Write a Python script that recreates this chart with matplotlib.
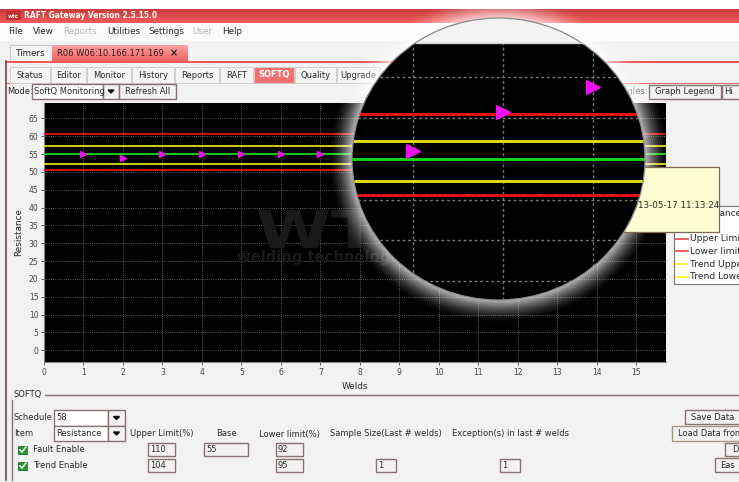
"""Pantalla RAFT Gateway: grafica SoftQ de resistancia con lupa encima."""

import matplotlib

matplotlib.use("Agg")
import matplotlib.pyplot as plt
import numpy as np
from matplotlib.colors import LinearSegmentedColormap
from matplotlib.patches import Ellipse, PathPatch, Rectangle
from matplotlib.font_manager import FontProperties
from matplotlib.text import TextPath
from matplotlib.transforms import Affine2D

W, H = 739, 482

welds = [1, 2, 3, 4, 5, 6, 7, 10, 11, 12]
resistance = [55, 54, 55, 55, 55, 55, 55, 56, 60.8, 63.8]
base = 55
fault_upper = 60.5
fault_lower = 50.6
trend_upper = 57.2
trend_lower = 52.25
x_ticks = list(range(0, 16))
y_ticks = list(range(0, 70, 5))

menu_items = ["File", "View", "Reports", "Utilities", "Settings", "User", "Help"]
menu_x = [8, 33, 63, 107, 148, 192, 222]
tab_names = ["Status", "Editor", "Monitor", "History", "Reports", "RAFT", "SOFTQ", "Quality", "Upgrade"]
tab_edges = [10, 51, 87, 132, 175, 220, 254, 295, 337, 380]
legend_names = ["Upper Limit", "Lower limit", "Trend Upper", "Trend Lower"]

RED = "#e81212"
YELLOW = "#dede14"
GREEN = "#12d812"
MAGENTA = "#ee10ee"
PANEL = "#f2f2f2"
BORDER = "#8a7272"
TEXT = "#2a2a2a"
FONT = "DejaVu Sans"


def px_axes(fig, x0, y0, x1, y1, zorder):
    return fig.add_axes([x0 / W, 1 - y1 / H, (x1 - x0) / W, (y1 - y0) / H], zorder=zorder)


def label(ax, x, y, s, size=6.05, color=TEXT, ha="left", **kw):
    ax.text(x, y, s, fontsize=size, color=color, ha=ha, va="center", family=FONT, **kw)


def field(ax, x0, y0, x1, y1, s="", fill="white", edge=BORDER, pad=2, ha="left"):
    ax.add_patch(Rectangle((x0, y0), x1 - x0, y1 - y0, fc=fill, ec=edge, lw=1))
    if s:
        tx = x0 + pad if ha == "left" else (x0 + x1) / 2
        label(ax, tx, (y0 + y1) / 2, s, ha=ha)


def combo(ax, x0, x1, x2, y0, y1, s):
    field(ax, x0, y0, x1, y1, s)
    field(ax, x1, y0, x2, y1, fill=PANEL)
    xm = (x1 + x2) / 2
    ym = (y0 + y1) / 2
    ax.fill([xm - 3, xm + 3, xm], [ym - 1.5, ym - 1.5, ym + 1.5], color="#111111")


def gradient(ax, x0, y0, x1, y1, top, bottom):
    cmap = LinearSegmentedColormap.from_list("g", [top, bottom])
    ax.imshow(np.linspace(0, 1, 32)[:, None], cmap=cmap, extent=(x0, x1, y1, y0), aspect="auto", zorder=1)


def check(ax, x, y):
    ax.add_patch(Rectangle((x, y - 4), 9, 8, fc="#1f9a2c", ec="#0d5c18", lw=0.5))
    ax.plot([x + 2, x + 4, x + 8], [y, y + 2, y - 3], color="white", lw=1.1)


def draw_series(ax, lw, ms):
    ax.axhline(fault_upper, color=RED, lw=lw, zorder=3)
    ax.axhline(fault_lower, color=RED, lw=lw, zorder=3)
    ax.axhline(trend_upper, color=YELLOW, lw=lw, zorder=3)
    ax.axhline(trend_lower, color=YELLOW, lw=lw, zorder=3)
    ax.axhline(base, color=GREEN, lw=lw, zorder=3)
    ax.plot(welds, resistance, ls="none", marker=">", ms=ms, color=MAGENTA, mec=MAGENTA, zorder=4)


fig = plt.figure(figsize=(W / 100, H / 100), dpi=100, facecolor=PANEL)

# Ventana de fondo
bg = px_axes(fig, 0, 0, W, H, 0)
bg.set_xlim(0, W)
bg.set_ylim(H, 0)
bg.axis("off")
bg.add_patch(Rectangle((0, 0), W, 9, fc="white", ec="none"))
gradient(bg, 0, 9, W, 23, "#c43e3e", "#f75a5a")
bg.add_patch(Rectangle((6, 11), 15, 9, fc="#c43030", ec="none"))
label(bg, 7.5, 16, "wtc", size=4, color="white", fontweight="bold")
label(bg, 24, 16, "RAFT Gateway Version 2.5.15.0", size=5.45, color="white", fontweight="bold")
bg.add_patch(Rectangle((0, 23), W, 18, fc="#fbfbfb", ec="none"))
for name, x in zip(menu_items, menu_x):
    label(bg, x, 31, name, size=6.3, color="#b5b5b5" if name in ("Reports", "User") else TEXT)

# Pestanas
bg.add_patch(Rectangle((10, 45), 42, 16, fc="#f4f4f4", ec="#c8c8c8", lw=0.8))
label(bg, 15, 53, "Timers", size=6.3)
gradient(bg, 52, 45, 188, 61, "#f6a3a3", "#f06262")
label(bg, 57, 53, "R06 W06:10.166.171.169", size=6.05, color="#3a1c1c")
label(bg, 174, 53, "\u00d7", size=7, color="#222222", ha="center", fontweight="bold")
bg.add_patch(Rectangle((5, 61), W, 2, fc="#ee5a5a", ec="none"))
bg.add_patch(Rectangle((5, 83), W, 1.4, fc="#e86a6a", ec="none"))
bg.plot([5.5, 5.5], [61, 480], color="#6a4a4a", lw=1.2)
for i, name in enumerate(tab_names):
    x0, x1 = tab_edges[i], tab_edges[i + 1]
    active = name == "SOFTQ"
    bg.add_patch(Rectangle((x0, 67), x1 - x0 - 1, 16, fc="#f47070" if active else "#f5f5f5", ec="#cfcfcf", lw=0.7))
    label(bg, (x0 + x1 - 1) / 2, 75, name, ha="center", color="white" if active else TEXT,
          fontweight="bold" if active else "normal")

label(bg, 7, 92, "Mode:")
combo(bg, 32, 103, 119, 84, 99, "SoftQ Monitoring")
field(bg, 119, 84, 176, 99, "Refresh All", fill=PANEL, ha="center")
label(bg, 648, 92, "ngles:", ha="right", color="#555555")
field(bg, 649, 85, 721, 99, "Graph Legend", fill=PANEL, ha="center")
field(bg, 722, 85, 745, 99, "Hi", fill=PANEL)

# Panel SOFTQ
bg.plot([12, 12, W], [480, 395, 395], color=BORDER, lw=1)
bg.add_patch(Rectangle((12, 390), 33, 10, fc=PANEL, ec="none", zorder=2))
label(bg, 13, 395, "SOFTQ", zorder=3)
label(bg, 14, 418, "Schedule")
combo(bg, 54, 108, 125, 410, 426, "58")
label(bg, 14, 434, "Item")
combo(bg, 54, 108, 125, 426, 441, "Resistance")
label(bg, 130, 434, "Upper Limit(%)")
label(bg, 226, 434, "Base", ha="center")
label(bg, 259, 434, "Lower limit(%)")
label(bg, 330, 434, "Sample Size(Last # welds)")
label(bg, 452, 434, "Exception(s) in last # welds")
check(bg, 18, 450)
label(bg, 33, 450, "Fault Enable")
check(bg, 18, 466)
label(bg, 33, 466, "Trend Enable")
field(bg, 148, 443, 175, 456, "110", fill=PANEL)
field(bg, 204, 443, 248, 456, "55", fill=PANEL)
field(bg, 276, 443, 303, 456, "92", fill=PANEL)
field(bg, 148, 459, 175, 472, "104", fill=PANEL)
field(bg, 276, 459, 303, 472, "95", fill=PANEL)
field(bg, 376, 459, 396, 472, "1", fill=PANEL)
field(bg, 500, 459, 520, 472, "1", fill=PANEL)
field(bg, 685, 410, 745, 424, "Save Data", fill=PANEL, pad=6)
field(bg, 672, 426, 745, 441, "Load Data from", fill=PANEL, pad=6, edge="#a89a80")
field(bg, 725, 443, 745, 456, "D", fill=PANEL, pad=7)
field(bg, 715, 458, 745, 472, "Eas", fill=PANEL, pad=5)
bg.set_xlim(0, W)
bg.set_ylim(H, 0)

# Grafica principal
ax = px_axes(fig, 44, 103, 666, 362, 1)
ax.set_facecolor("black")
ax.set_xlim(0, 15.75)
ax.set_ylim(-3.3, 69.3)
ax.set_xticks(x_ticks)
ax.set_yticks(y_ticks)
ax.tick_params(labelsize=5.5, length=2, width=0.6, colors="#444444", pad=2)
ax.grid(True, color="#7a7a7a", ls=(0, (1, 1.6)), lw=0.6)
ax.set_axisbelow(True)
for side in ("top", "right"):
    ax.spines[side].set_visible(False)
for side in ("left", "bottom"):
    ax.spines[side].set_color("#888888")
ax.set_xlabel("Welds", fontsize=6.4, color=TEXT, labelpad=4)
ax.set_ylabel("Resistance", fontsize=6.4, color=TEXT, labelpad=4)

# Marca de agua ensanchada, como en la captura
mark = TextPath((0, 0), "WT", size=1, prop=FontProperties(family=FONT, weight="bold"))
ax.add_patch(PathPatch(mark, fc="#191919", ec="none", zorder=1,
                       transform=Affine2D().scale(68, 52).translate(256, H - 248)))
ax.text(4.89, 26, "welding technologies", fontsize=10.6, fontweight="bold", color="#191919",
        ha="left", va="center", family=FONT, zorder=1)
draw_series(ax, 1.3, 4.2)

# Resplandor alrededor de la lupa
cx, cy, rx, ry = 498.5, 159, 146.5, 141
halo_ax = px_axes(fig, 0, 0, W, H, 2)
halo_ax.axis("off")
xx, yy = np.meshgrid(np.arange(W) + 0.5, np.arange(H) + 0.5)
rr = np.hypot((xx - cx) / rx, (yy - cy) / ry)
dist = (rr - 1) * (rx + ry) / 2
fade = np.clip(1 - dist / 24, 0, 1) ** 1.6 * 0.72
halo = np.ones((H, W, 4))
halo[..., 3] = fade
halo_ax.imshow(halo, extent=(0, W, H, 0), aspect="auto", interpolation="bilinear")

# Tooltip y leyenda
top = px_axes(fig, 0, 0, W, H, 3)
top.set_xlim(0, W)
top.set_ylim(H, 0)
top.axis("off")
top.add_patch(Rectangle((674, 206), 80, 78, fc="white", ec="#777777", lw=0.8))
label(top, 693, 213, "Resistance", size=6.4, zorder=2)
for i, name in enumerate(legend_names):
    y = 238.5 + i * 12.8
    top.plot([676, 688], [y, y], color="#f04040" if i < 2 else "#f4f414", lw=1.2)
    label(top, 690, y, name, size=6.6)
top.add_patch(Rectangle((600, 167), 119, 65, fc="#fdfdd2", ec="#7a6a5a", lw=0.9, zorder=5))
top.set_xlim(0, W)
top.set_ylim(H, 0)

# Lupa: misma serie, ampliada
base_ax = px_axes(fig, 0, 0, W, H, 4)
base_ax.set_xlim(0, W)
base_ax.set_ylim(H, 0)
base_ax.axis("off")
base_ax.patch.set_visible(False)
lens_shape = Ellipse((cx, cy), 2 * rx, 2 * ry, fc=PANEL, ec="none")
base_ax.add_patch(lens_shape)

lens = px_axes(fig, cx - rx, 43, cx + rx, cy + ry, 5)
lens.set_facecolor("black")
lens.set_xlim(11 + (cx - rx - 503) / 90, 11 + (cx + rx - 503) / 90)
lens.set_ylim(55 - (cy + ry - 159) / 8.15, 55 + (159 - 43) / 8.15)
lens.set_xticks([])
lens.set_yticks([])
for spine in lens.spines.values():
    spine.set_visible(False)
lens.patch.set_clip_path(lens_shape)
for x in x_ticks:
    lens.axvline(x, color="#7a7a7a", ls=(0, (2, 2)), lw=1.0, zorder=2)
for y in y_ticks:
    lens.axhline(y, color="#7a7a7a", ls=(0, (2, 2)), lw=1.0, zorder=2)
draw_series(lens, 2.1, 10)
for artist in lens.get_lines():
    artist.set_clip_path(lens_shape)

edge_ax = px_axes(fig, 0, 0, W, H, 6)
edge_ax.set_xlim(0, W)
edge_ax.set_ylim(H, 0)
edge_ax.axis("off")
edge_ax.patch.set_visible(False)
edge_ax.add_patch(Ellipse((cx, cy), 2 * rx, 2 * ry, fc="none", ec="#8a8a8a", lw=0.9))
edge_ax.plot([cx - 83, cx + 83], [43, 43], color="#cfcfcf", lw=1)
label(edge_ax, 638.5, 206, "13-05-17 11:13:24", size=6.3, color=TEXT)

fig.savefig("out.png", dpi=100, facecolor=PANEL)
